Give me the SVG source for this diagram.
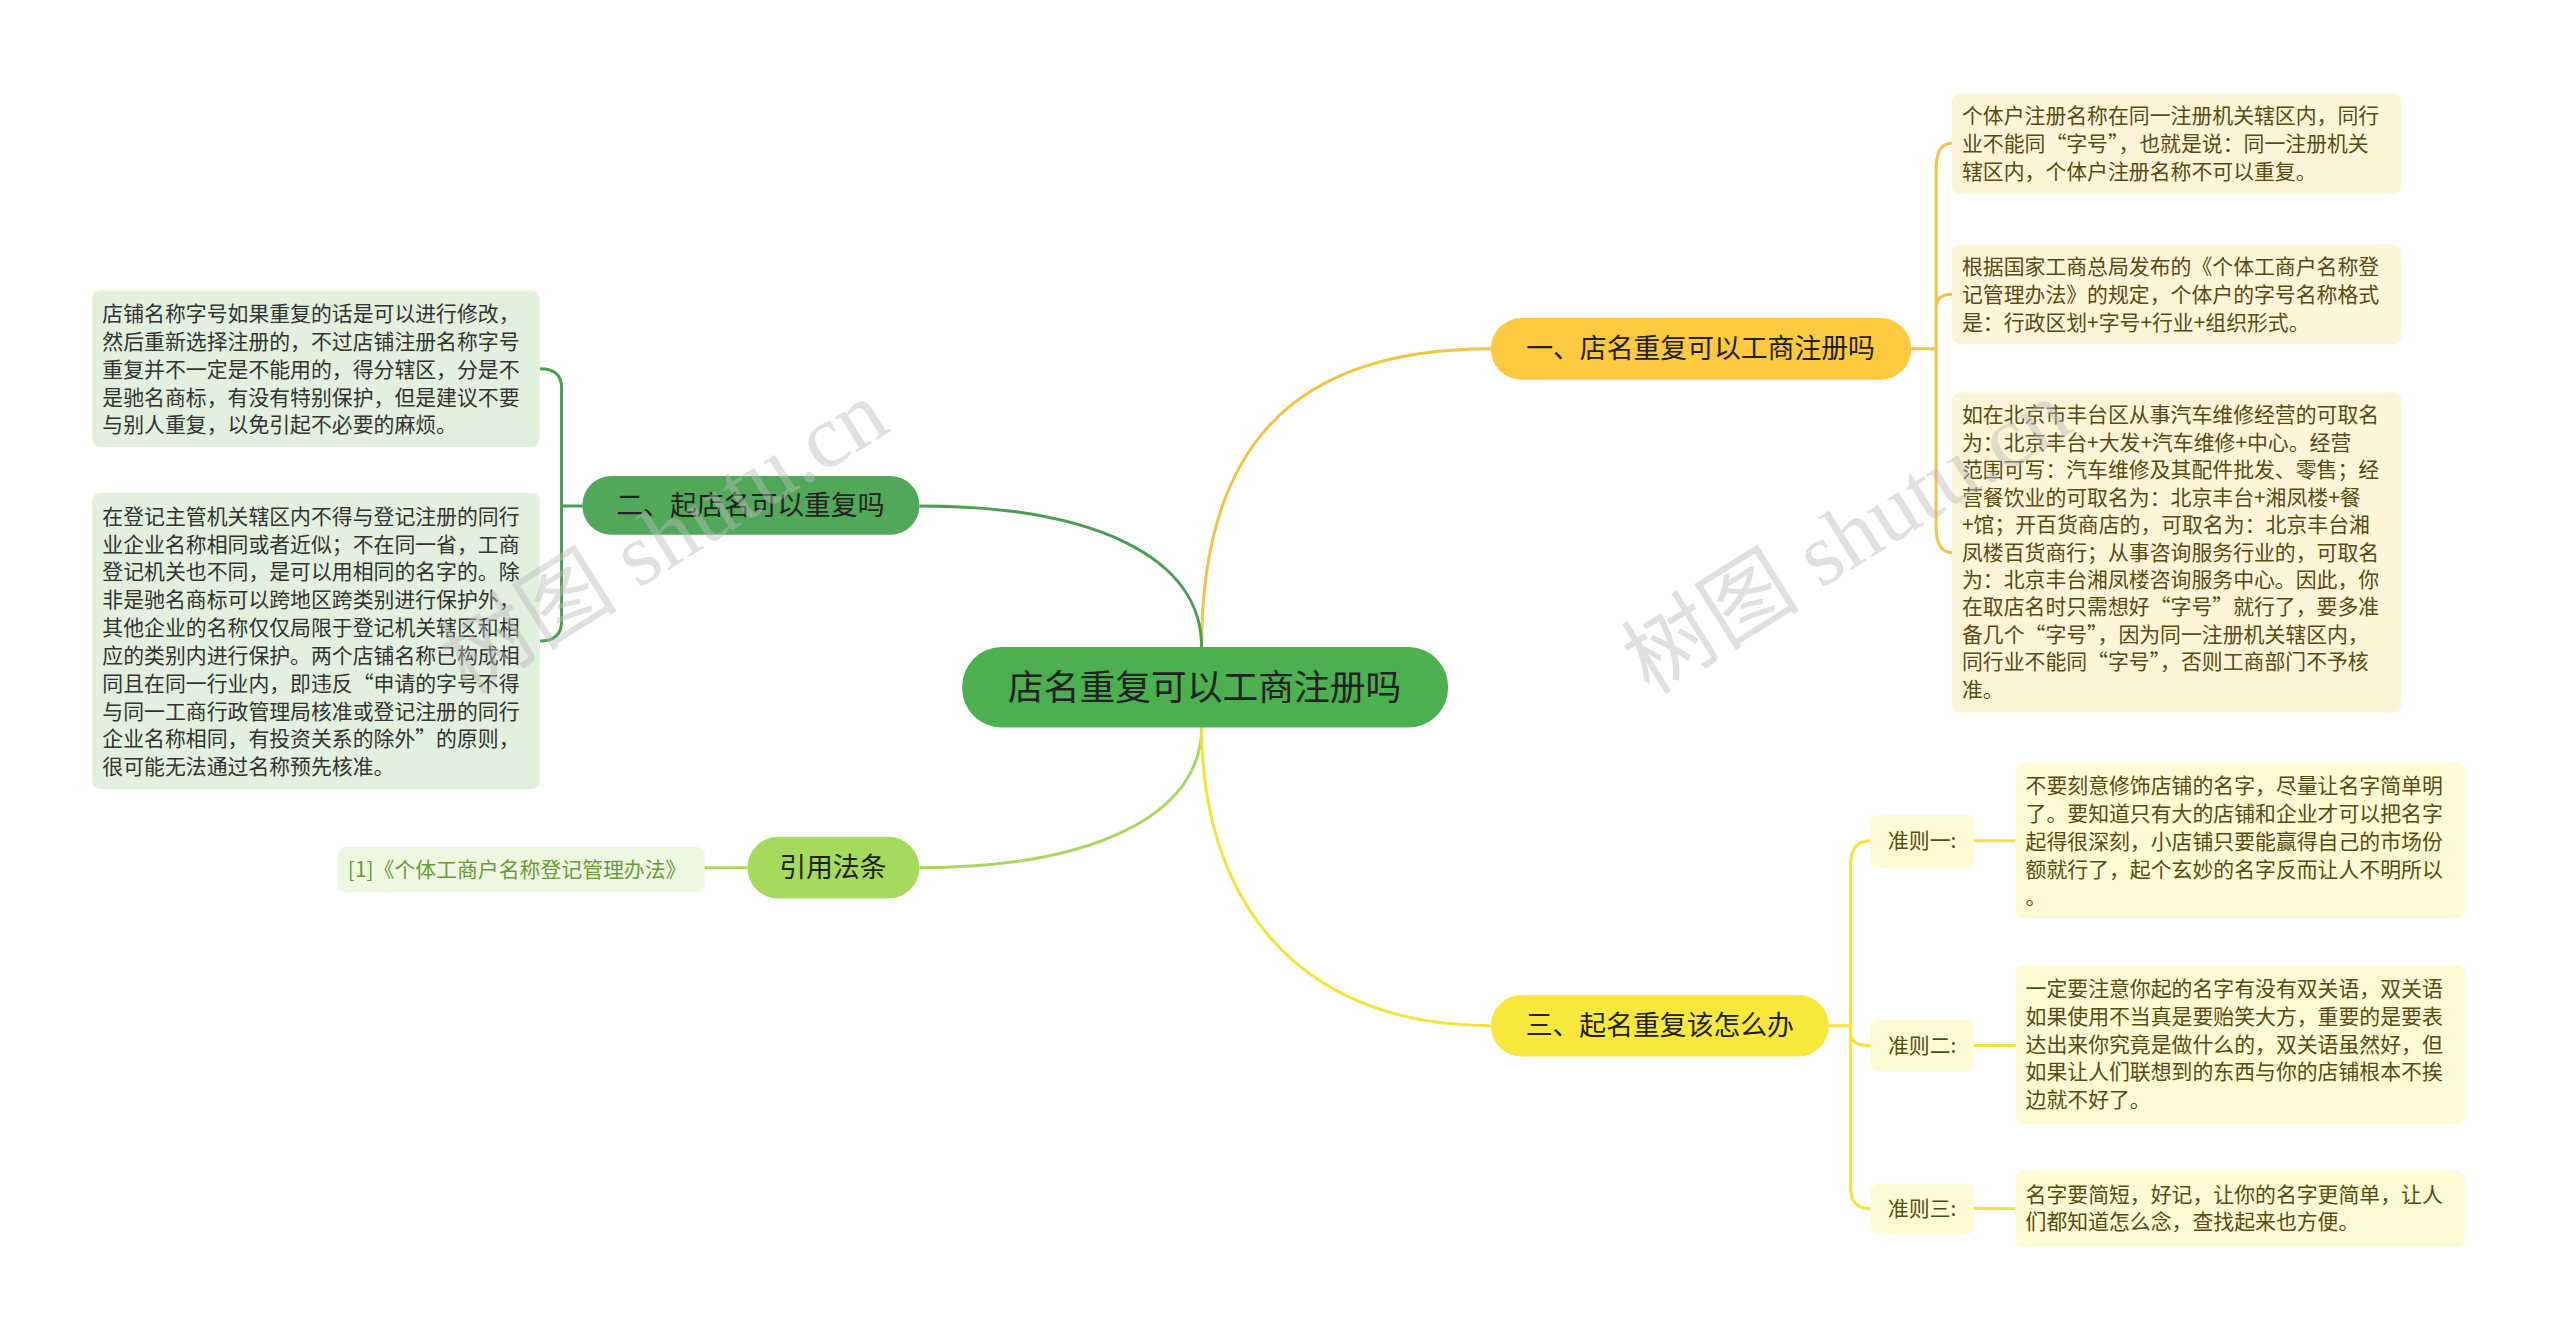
<svg xmlns="http://www.w3.org/2000/svg" width="2560" height="1341" viewBox="0 0 2560 1341">
<style>
text{font-family:"Noto Sans CJK SC","Noto Sans",sans-serif}
.t{font-size:21px}
.gl{fill:#333}
.yl{fill:#5a4a14}
.c{fill:none;stroke-width:3}
.wm{font-size:90px;fill:#bbb;opacity:.45;font-family:"Liberation Serif","Noto Sans CJK SC",serif}
</style>
<rect width="2560" height="1341" fill="#fff"/>
<g transform="scale(0.9939)">
<g id="connectors">
<path class="c" stroke="#f5c342" d="M1209 651 C1209 450 1300 351 1500 351"/>
<path class="c" stroke="#4a9e50" d="M1209 651 C1209 560 1100 509 925 509"/>
<path class="c" stroke="#a8d85c" d="M1209 732 C1209 820 1100 873 925 873"/>
<path class="c" stroke="#f6e33a" d="M1209 732 C1209 900 1300 1032 1500 1032"/>
<path class="c" stroke="#f5c342" d="M1923 351 H1948 M1948 351 V170 Q1948 144 1964 144 M1948 351 V310 Q1948 296 1964 296 M1948 351 V530 Q1948 556 1964 556"/>
<path class="c" stroke="#4a9e50" d="M586 509 H565 M565 509 V390 Q565 371 543 371 M565 509 V625 Q565 645 543 645"/>
<path class="c" stroke="#a8d85c" d="M752 873 H709"/>
<path class="c" stroke="#f6e33a" d="M1840 1032 H1862 M1862 1032 V870 Q1862 846 1882 846 M1862 1032 V1040 Q1862 1052 1882 1052 M1862 1032 V1195 Q1862 1216 1882 1216 M1986 846 H2028 M1986 1052 H2028 M1986 1216 H2028"/>
</g>
<g id="center"><rect x="968" y="651" width="489" height="81" rx="40" fill="#4caf50"/><text x="1212" y="704" font-size="36" text-anchor="middle" fill="#222">店名重复可以工商注册吗</text></g>
<g id="b1"><rect x="1500" y="320" width="423" height="62" rx="31" fill="#fcc93f"/><text x="1711" y="360" font-size="27" text-anchor="middle" fill="#222">一、店名重复可以工商注册吗</text></g>
<g id="b2"><rect x="586" y="479" width="339" height="59" rx="29" fill="#52a85a"/><text x="755" y="518" font-size="27" text-anchor="middle" fill="#222">二、起店名可以重复吗</text></g>
<g id="b4"><rect x="752" y="842" width="173" height="62" rx="31" fill="#a6da5c"/><text x="838" y="882" font-size="27" text-anchor="middle" fill="#222">引用法条</text></g>
<g id="b3"><rect x="1500" y="1001" width="340" height="62" rx="31" fill="#f8e83c"/><text x="1670" y="1041" font-size="27" text-anchor="middle" fill="#222">三、起名重复该怎么办</text></g>
<g id="l1a"><rect x="1964" y="94" width="452" height="101" rx="8" fill="#fdf5d6"/><text class="t yl"><tspan x="1974" y="124">个体户注册名称在同一注册机关辖区内，同行</tspan><tspan x="1974" y="152">业不能同“字号”，也就是说：同一注册机关</tspan><tspan x="1974" y="180">辖区内，个体户注册名称不可以重复。</tspan></text></g>
<g id="l1b"><rect x="1964" y="246" width="452" height="100" rx="8" fill="#fdf5d6"/><text class="t yl"><tspan x="1974" y="276">根据国家工商总局发布的《个体工商户名称登</tspan><tspan x="1974" y="304">记管理办法》的规定，个体户的字号名称格式</tspan><tspan x="1974" y="332">是：行政区划+字号+行业+组织形式。</tspan></text></g>
<g id="l1c"><rect x="1964" y="395" width="452" height="322" rx="8" fill="#fdf5d6"/><text class="t yl"><tspan x="1974" y="425">如在北京市丰台区从事汽车维修经营的可取名</tspan><tspan x="1974" y="452.6">为：北京丰台+大发+汽车维修+中心。经营</tspan><tspan x="1974" y="480.2">范围可写：汽车维修及其配件批发、零售；经</tspan><tspan x="1974" y="507.8">营餐饮业的可取名为：北京丰台+湘凤楼+餐</tspan><tspan x="1974" y="535.4">+馆；开百货商店的，可取名为：北京丰台湘</tspan><tspan x="1974" y="563">凤楼百货商行；从事咨询服务行业的，可取名</tspan><tspan x="1974" y="590.6">为：北京丰台湘凤楼咨询服务中心。因此，你</tspan><tspan x="1974" y="618.2">在取店名时只需想好“字号”就行了，要多准</tspan><tspan x="1974" y="645.8">备几个“字号”，因为同一注册机关辖区内，</tspan><tspan x="1974" y="673.4">同行业不能同“字号”，否则工商部门不予核</tspan><tspan x="1974" y="701">准。</tspan></text></g>
<g id="l2a"><rect x="93" y="292" width="450" height="158" rx="8" fill="#e2f0de"/><text class="t gl"><tspan x="103" y="323">店铺名称字号如果重复的话是可以进行修改，</tspan><tspan x="103" y="351">然后重新选择注册的，不过店铺注册名称字号</tspan><tspan x="103" y="379">重复并不一定是不能用的，得分辖区，分是不</tspan><tspan x="103" y="407">是驰名商标，有没有特别保护，但是建议不要</tspan><tspan x="103" y="435">与别人重复，以免引起不必要的麻烦。</tspan></text></g>
<g id="l2b"><rect x="93" y="496" width="450" height="298" rx="8" fill="#e2f0de"/><text class="t gl"><tspan x="103" y="527">在登记主管机关辖区内不得与登记注册的同行</tspan><tspan x="103" y="555">业企业名称相同或者近似；不在同一省，工商</tspan><tspan x="103" y="583">登记机关也不同，是可以用相同的名字的。除</tspan><tspan x="103" y="611">非是驰名商标可以跨地区跨类别进行保护外，</tspan><tspan x="103" y="639">其他企业的名称仅仅局限于登记机关辖区和相</tspan><tspan x="103" y="667">应的类别内进行保护。两个店铺名称已构成相</tspan><tspan x="103" y="695">同且在同一行业内，即违反“申请的字号不得</tspan><tspan x="103" y="723">与同一工商行政管理局核准或登记注册的同行</tspan><tspan x="103" y="751">企业名称相同，有投资关系的除外”的原则，</tspan><tspan x="103" y="779">很可能无法通过名称预先核准。</tspan></text></g>
<g id="l4"><rect x="340" y="852" width="369" height="46" rx="8" fill="#eef7df"/><text class="t" x="350" y="882" fill="#6a9a3a">[1]《个体工商户名称登记管理办法》</text></g>
<g id="r1"><rect x="1882" y="820" width="104" height="53" rx="8" fill="#fdfad4"/><text class="t yl" x="1934" y="853" text-anchor="middle">准则一:</text></g>
<g id="r2"><rect x="1882" y="1026" width="104" height="52" rx="8" fill="#fdfad4"/><text class="t yl" x="1934" y="1059" text-anchor="middle">准则二:</text></g>
<g id="r3"><rect x="1882" y="1191" width="104" height="51" rx="8" fill="#fdfad4"/><text class="t yl" x="1934" y="1223" text-anchor="middle">准则三:</text></g>
<g id="l3a"><rect x="2028" y="768" width="452" height="156" rx="8" fill="#fdfad4"/><text class="t yl"><tspan x="2038" y="798">不要刻意修饰店铺的名字，尽量让名字简单明</tspan><tspan x="2038" y="826">了。要知道只有大的店铺和企业才可以把名字</tspan><tspan x="2038" y="854">起得很深刻，小店铺只要能赢得自己的市场份</tspan><tspan x="2038" y="882">额就行了，起个玄妙的名字反而让人不明所以</tspan><tspan x="2038" y="910">。</tspan></text></g>
<g id="l3b"><rect x="2028" y="971" width="452" height="160" rx="8" fill="#fdfad4"/><text class="t yl"><tspan x="2038" y="1002">一定要注意你起的名字有没有双关语，双关语</tspan><tspan x="2038" y="1030">如果使用不当真是要贻笑大方，重要的是要表</tspan><tspan x="2038" y="1058">达出来你究竟是做什么的，双关语虽然好，但</tspan><tspan x="2038" y="1086">如果让人们联想到的东西与你的店铺根本不挨</tspan><tspan x="2038" y="1114">边就不好了。</tspan></text></g>
<g id="l3c"><rect x="2028" y="1178" width="452" height="77" rx="8" fill="#fdfad4"/><text class="t yl"><tspan x="2038" y="1209">名字要简短，好记，让你的名字更简单，让人</tspan><tspan x="2038" y="1237">们都知道怎么念，查找起来也方便。</tspan></text></g>
<text class="wm" transform="translate(470 700) rotate(-32)">树图 shutu.cn</text>
<text class="wm" transform="translate(1660 700) rotate(-32)">树图 shutu.cn</text>
</g>
</svg>
